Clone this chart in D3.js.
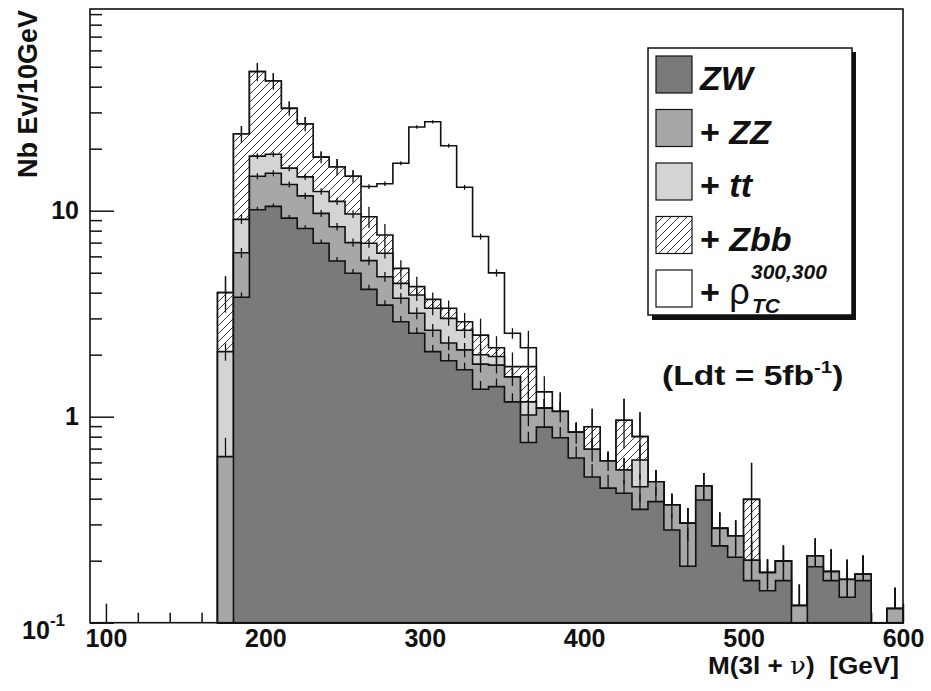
<!DOCTYPE html>
<html>
<head>
<meta charset="utf-8">
<script src="https://cdn.jsdelivr.net/npm/d3@7"></script>
<style>
  body { margin: 0; background: #fff; }
  text { font-family: "Liberation Sans", Arial, sans-serif; font-weight: bold; fill: #111; }
</style>
</head>
<body>
<div id="chart-area"></div>
<script>
// lower edge of each 10 GeV bin
var bins = [170,180,190,200,210,220,230,240,250,260,270,280,290,300,310,320,330,340,350,360,
            370,380,390,400,410,420,430,440,450,460,470,480,490,500,510,520,530,540,550,560,570,580,590];

// per-process contributions (events / 10 GeV), stacked bottom -> top
var zw  = [0,3.8,10.1,10.5,9.2,8.2,6.95,5.7,4.97,4.15,3.48,2.89,2.54,2.07,1.87,1.69,1.36,1.40,1.18,0.75,
           0.89,0.79,0.63,0.51,0.45,0.425,0.355,0.387,0.282,0.188,0.394,0.236,0.208,0.160,0.143,0.160,0,0.187,0.160,0.133,0.160,0,0];
var zz  = [0.64,2.45,4.6,4.7,4.2,3.6,2.75,2.66,2.03,1.57,1.30,0.87,0.64,0.56,0.41,0.42,0.44,0.38,0.38,0.27,
           0.21,0.27,0.21,0.185,0.16,0.126,0.102,0.096,0.091,0.116,0.067,0.051,0.056,0.041,0.032,0.039,0.121,0.024,0.017,0.029,0.012,0,0.117];
var tt  = [1.43,2.83,3.7,3.6,2.7,2.8,2.7,2.74,2.64,1.23,1.43,0.68,0.72,0.73,0.72,0.52,0.20,0.18,0,0.16,
           0,0,0,0,0,0,0.159,0,0,0,0,0,0,0,0,0,0,0,0,0,0,0,0];
var zbb = [1.93,14.5,28.9,23.8,15.3,11.8,5.8,5.2,5.06,2.4,1.41,0.81,0.38,0.35,0.36,0.26,0.49,0.20,0.19,0.57,
           0,0,0,0.199,0,0.41,0.184,0,0,0,0,0,0,0.196,0,0,0,0,0,0,0,0,0];
var rho = [0,0,0,0,0,0,0,0,0,3.75,5.9,11.75,21.2,23.3,17.3,10.1,5.0,2.83,0.79,0.41,
           0.22,0,0,0,0,0,0,0,0,0,0,0,0,0,0,0,0,0,0,0,0,0,0];

// statistical error of each cumulative histogram
var errZW  = [0,0.21,0.35,0.35,0.33,0.31,0.29,0.26,0.24,0.22,0.2,0.19,0.17,0.16,0.15,0.14,0.13,0.13,0.12,0.095,
              0.1,0.1,0.087,0.078,0.073,0.071,0.065,0.068,0.058,0.1,0.069,0.053,0.05,0.044,0.041,0.044,0,0.047,0.044,0.04,0.044,0,0];
var errZZ  = [0.15,0.35,0.5,0.5,0.45,0.42,0.38,0.35,0.32,0.28,0.26,0.23,0.21,0.19,0.18,0.17,0.16,0.16,0.15,0.12,
              0.12,0.12,0.1,0.09,0.065,0.08,0.07,0.067,0.05,0.056,0.072,0.056,0.05,0.05,0.028,0.038,0.032,0.045,0.05,0.04,0.04,0,0.031];
var errTT  = [0.2,0.45,0.6,0.6,0.55,0.5,0.45,0.45,0.42,0.35,0.35,0.28,0.26,0.25,0.24,0.22,0.18,0.17,0.15,0.15,
              0.12,0.12,0.1,0.09,0.065,0.08,0.12,0.067,0.05,0.056,0.072,0.056,0.05,0.05,0.028,0.038,0.032,0.045,0.05,0.04,0.04,0,0.031];
var errZBB = [0.8,2.2,4.8,4.0,2.5,2.1,1.2,1.5,1.0,1.1,1.0,0.5,0.5,0.3,0.3,0.3,0.5,0.3,0.3,0.5,
              0.12,0.25,0.09,0.2,0.065,0.26,0.25,0.067,0.05,0.056,0.072,0.056,0.05,0.2,0.028,0.038,0.032,0.045,0.05,0.04,0.04,0,0.031];
var errRHO = [0.8,2.2,4.8,4.0,2.5,2.1,1.2,1.5,1.0,0.35,0.35,0.4,0.5,0.5,0.45,0.35,0.25,0.2,0.15,0.45,
              0.25,0.25,0.09,0.2,0.065,0.26,0.25,0.067,0.05,0.056,0.072,0.056,0.05,0.2,0.028,0.038,0.032,0.045,0.05,0.04,0.04,0,0.031];

var keys = ["zw","zz","tt","zbb","rho"];
var fills = {zw: "#7a7a7a", zz: "#a7a7a7", tt: "#d4d4d4", zbb: "url(#hatch)", rho: "#ffffff"};
var errs = {zw: errZW, zz: errZZ, tt: errTT, zbb: errZBB, rho: errRHO};

var yMajor = [0.1, 1, 10];
var yMajorLabels = ["10", "1", "10"];
var yMinor = [0.2,0.3,0.4,0.5,0.6,0.7,0.8,0.9,2,3,4,5,6,7,8,9,20,30,40,50,60,70,80,90];
var xMajor = [100,200,300,400,500,600];
var xMinor = [120,140,160,180,220,240,260,280,320,340,360,380,420,440,460,480,520,540,560,580];

var rows = bins.map((b, i) => {
  return {bin: b, zw: zw[i], zz: zz[i], tt: tt[i], zbb: zbb[i], rho: rho[i]};
});
var stacked = d3.stack().keys(keys)(rows);

var x = d3.scaleLinear().domain([90, 600]).range([90, 903]);
var y = d3.scaleLog().domain([0.1, 95.3]).range([622.7, 9]).clamp(true);
var binW = 10;

var svg = d3.select("#chart-area").append("svg").attr("width", 931).attr("height", 691);

var defs = svg.append("defs");
var pat = defs.append("pattern").attr("id", "hatch")
  .attr("patternUnits", "userSpaceOnUse").attr("width", 8).attr("height", 8);
pat.append("rect").attr("width", 8).attr("height", 8).attr("fill", "#fff");
pat.append("path").attr("d", "M-2,2 L2,-2 M0,8 L8,0 M6,10 L10,6")
  .attr("stroke", "#222").attr("stroke-width", 0.9);

// axes (ticks point inward)
var gyMinor = svg.append("g").attr("transform", "translate(90,0)")
  .call(d3.axisLeft(y).tickValues(yMinor).tickSize(-12).tickFormat(""));
var gyMajor = svg.append("g").attr("transform", "translate(90,0)")
  .call(d3.axisLeft(y).tickValues(yMajor).tickSize(-24).tickPadding(11)
    .tickFormat((d, i) => yMajorLabels[i]));
var gxMinor = svg.append("g").attr("transform", "translate(0,622.7)")
  .call(d3.axisBottom(x).tickValues(xMinor).tickSize(-10).tickFormat(""));
var gxMajor = svg.append("g").attr("transform", "translate(0,622.7)")
  .call(d3.axisBottom(x).tickValues(xMajor).tickSize(-19).tickPadding(6.5)
    .tickFormat((d) => d));
[gyMinor, gyMajor, gxMinor, gxMajor].forEach((g) => {
  g.select(".domain").remove();
  g.selectAll(".tick line").attr("stroke", "#111").attr("stroke-width", 1.5);
  g.attr("font-size", 25).attr("font-family", null);
});
gyMajor.selectAll(".tick text").filter((d) => d === 0.1)
  .attr("dy", "0.62em").attr("x", -25)
  .append("tspan").attr("font-size", 17).attr("dy", "-0.75em").text("-1");

// histogram stack: draw biggest cumulative first, smaller ones over it
var plot = svg.append("g");
var stepLine = d3.line();
stacked.slice().reverse().forEach((layer) => {
  var key = layer.key;
  var pts = [[x(bins[0]), y(0)]];
  layer.forEach((d, i) => {
    pts.push([x(bins[i]), y(d[1])]);
    pts.push([x(bins[i] + binW), y(d[1])]);
  });
  pts.push([x(bins[bins.length - 1] + binW), y(0)]);
  plot.append("path")
    .attr("d", stepLine(pts) + "Z")
    .attr("fill", fills[key])
    .attr("stroke", "#111")
    .attr("stroke-width", 1.6)
    .attr("stroke-linejoin", "miter");
  var e = errs[key];
  var bars = [];
  layer.forEach((d, i) => {
    if (d[1] > 0 && e[i] > 0) {
      // lower half stops at the histogram underneath (hidden there anyway)
      var lo = d[0] > 0 ? Math.max(d[1] - e[i], d[0]) : d[1];
      bars.push({c: bins[i] + binW / 2, lo: lo, hi: d[1] + e[i]});
    }
  });
  plot.append("g").selectAll("line").data(bars)
    .enter().append("line")
    .attr("x1", (d) => x(d.c)).attr("x2", (d) => x(d.c))
    .attr("y1", (d) => y(d.lo))
    .attr("y2", (d) => y(d.hi))
    .attr("stroke", "#111").attr("stroke-width", 1.3);
});

// frame
svg.append("rect").attr("x", 90).attr("y", 9).attr("width", 813).attr("height", 613.7)
  .attr("fill", "none").attr("stroke", "#111").attr("stroke-width", 1.6);

// axis titles
svg.append("text").attr("transform", "translate(37,10) rotate(-90)")
  .attr("text-anchor", "end").attr("font-size", 27).text("Nb Ev/10GeV");
var xt = svg.append("text").attr("transform", "translate(899,674) scale(1.09,1)")
  .attr("text-anchor", "end").attr("font-size", 24).style("white-space", "pre");
xt.append("tspan").text("M(3l + ");
xt.append("tspan").attr("font-weight", "normal").attr("font-family", "DejaVu Serif").text("\u03bd");
xt.append("tspan").text(")  [GeV]");

// luminosity label
var lum = svg.append("text").attr("transform", "translate(662,385) scale(1.2,1)").attr("font-size", 28);
lum.append("tspan").text("(Ldt = 5fb");
lum.append("tspan").attr("font-size", 17).attr("dy", -12).text("-1");
lum.append("tspan").attr("dy", 12).text(")");

// legend
var legendNames = ["ZW", "ZZ", "tt", "Zbb"];
var legendKeys = ["zw", "zz", "tt", "zbb", "rho"];
var leg = svg.append("g");
leg.append("rect").attr("x", 652).attr("y", 52).attr("width", 204).attr("height", 268).attr("fill", "#111");
leg.append("rect").attr("x", 648).attr("y", 48).attr("width", 204).attr("height", 267)
  .attr("fill", "#fff").attr("stroke", "#111").attr("stroke-width", 1.5);
legendKeys.forEach((k, i) => {
  var top = 56 + i * 53.5;
  leg.append("rect").attr("x", 656).attr("y", top).attr("width", 36).attr("height", 37)
    .attr("fill", fills[k]).attr("stroke", "#111").attr("stroke-width", 1.2);
  var t = leg.append("text").attr("x", 700).attr("y", top + 34).attr("font-size", 34);
  if (i > 0) t.append("tspan").text("+ ");
  if (i < 4) {
    t.append("tspan").attr("font-style", "italic").text(legendNames[i]);
  } else {
    t.append("tspan").attr("font-weight", "normal").attr("font-size", 36).text("\u03c1");
  }
});
leg.append("text").attr("x", 751).attr("y", 279).attr("font-size", 21)
  .attr("font-style", "italic").text("300,300");
leg.append("text").attr("x", 752).attr("y", 313).attr("font-size", 21)
  .attr("font-style", "italic").text("TC");
</script>
</body>
</html>
